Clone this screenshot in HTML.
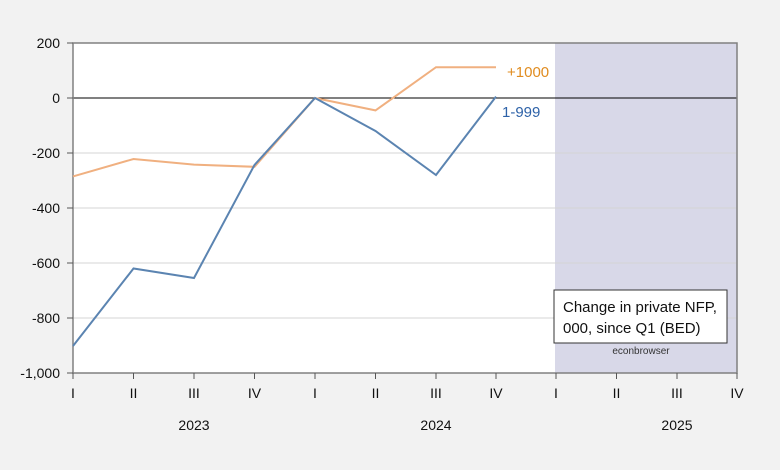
<!DOCTYPE html><html><head><style>body{margin:0;background:#f2f2f2}svg{display:block;font-family:"Liberation Sans",sans-serif}</style></head><body>
<svg width="780" height="470" xmlns="http://www.w3.org/2000/svg">
<rect width="780" height="470" fill="#f2f2f2"/>
<rect x="73" y="43" width="664" height="330" fill="#fff"/>
<rect x="555" y="43" width="182" height="330" fill="#d8d8e8"/>
<g stroke="#d4d4d4" stroke-width="1">
<line x1="73" x2="737" y1="153" y2="153"/><line x1="73" x2="737" y1="208" y2="208"/><line x1="73" x2="737" y1="263" y2="263"/><line x1="73" x2="737" y1="318" y2="318"/></g>
<line x1="73" x2="737" y1="98" y2="98" stroke="#000" stroke-width="1"/>
<rect x="73" y="43" width="664" height="330" fill="none" stroke="#808080" stroke-width="1.5"/>
<g stroke="#555" stroke-width="1">
<line x1="67" x2="73" y1="43" y2="43"/><line x1="67" x2="73" y1="98" y2="98"/><line x1="67" x2="73" y1="153" y2="153"/><line x1="67" x2="73" y1="208" y2="208"/><line x1="67" x2="73" y1="263" y2="263"/><line x1="67" x2="73" y1="318" y2="318"/><line x1="67" x2="73" y1="373" y2="373"/>
<line x1="73" x2="73" y1="373" y2="379"/><line x1="133.5" x2="133.5" y1="373" y2="379"/><line x1="194" x2="194" y1="373" y2="379"/><line x1="254.5" x2="254.5" y1="373" y2="379"/><line x1="315" x2="315" y1="373" y2="379"/><line x1="375.5" x2="375.5" y1="373" y2="379"/><line x1="436" x2="436" y1="373" y2="379"/><line x1="496" x2="496" y1="373" y2="379"/><line x1="556" x2="556" y1="373" y2="379"/><line x1="616.5" x2="616.5" y1="373" y2="379"/><line x1="677" x2="677" y1="373" y2="379"/><line x1="737" x2="737" y1="373" y2="379"/></g>
<g font-size="14" fill="#111" text-anchor="end">
<text x="60" y="48">200</text><text x="60" y="103">0</text><text x="60" y="158">-200</text><text x="60" y="213">-400</text><text x="60" y="268">-600</text><text x="60" y="323">-800</text><text x="60" y="378">-1,000</text></g>
<g font-size="14" fill="#111" text-anchor="middle">
<text x="73" y="398">I</text><text x="133.5" y="398">II</text><text x="194" y="398">III</text><text x="254.5" y="398">IV</text><text x="315" y="398">I</text><text x="375.5" y="398">II</text><text x="436" y="398">III</text><text x="496" y="398">IV</text><text x="556" y="398">I</text><text x="616.5" y="398">II</text><text x="677" y="398">III</text><text x="737" y="398">IV</text>
<text x="194" y="430">2023</text><text x="436" y="430">2024</text><text x="677" y="430">2025</text></g>
<polyline fill="none" stroke="#f0b080" stroke-width="2" points="73,176.4 133.5,159 194,164.6 254.5,166.8 315,98 375.5,110.4 436,67.2 496,67.2"/>
<polyline fill="none" stroke="#5b84b1" stroke-width="2" points="73,346 133.5,268.5 194,278 254.5,165 315,98 375.5,131 436,175 496,96.6"/>
<text x="507" y="77" font-size="15" fill="#e08c20">+1000</text>
<text x="502" y="117" font-size="15" fill="#2e62a8">1-999</text>
<rect x="554" y="290" width="173" height="53" fill="#fff" stroke="#333" stroke-width="1"/>
<text x="563" y="312" font-size="15" fill="#111">Change in private NFP,</text>
<text x="563" y="333" font-size="15" fill="#111">000, since Q1 (BED)</text>
<text x="641" y="354" font-size="10" fill="#333" text-anchor="middle">econbrowser</text>
</svg></body></html>
